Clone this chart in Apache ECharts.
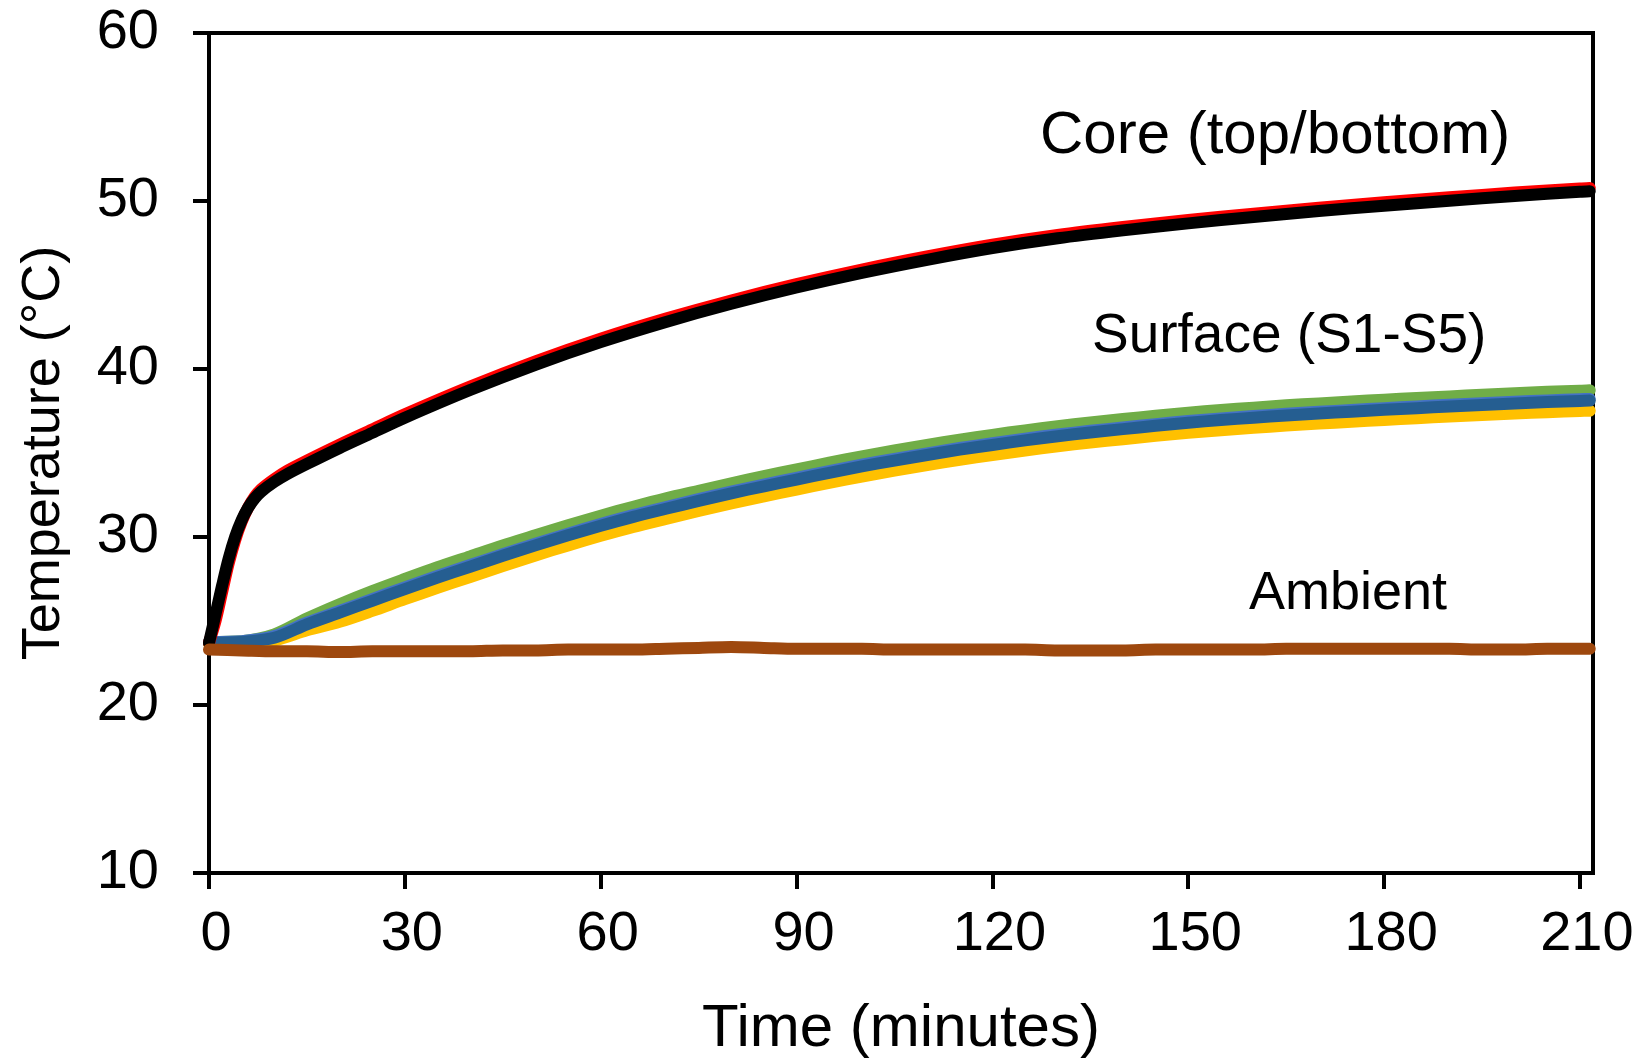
<!DOCTYPE html>
<html>
<head>
<meta charset="utf-8">
<title>Temperature vs time</title>
<script src="https://cdn.jsdelivr.net/npm/echarts@6/dist/echarts.min.js"></script>
<style>
  html, body { margin: 0; padding: 0; background: #ffffff; }
  #chart { width: 1639px; height: 1064px; }
</style>
</head>
<body>
<div id="chart"></div>
<script>
// Time stamps (minutes) for the core thermocouples
const coreTimes = [0, 1, 2, 3, 4, 5, 6, 7, 8, 10, 12, 15, 20, 25, 30, 40, 50, 60, 70, 80, 90, 100, 110, 120, 130, 140, 150, 160, 170, 180, 190, 200, 210, 211.5];
// Core, top and bottom sensors (°C)
const coreTop    = [23.7, 25.0, 26.7, 28.4, 29.8, 30.9, 31.75, 32.4, 32.85, 33.45, 33.95, 34.55, 35.5, 36.4, 37.3, 38.95, 40.45, 41.8, 43.0, 44.08, 45.05, 45.92, 46.7, 47.4, 47.98, 48.45, 48.87, 49.25, 49.6, 49.92, 50.22, 50.5, 50.75, 50.78];
const coreBottom = [23.7, 25.4, 27.1, 28.7, 30.0, 31.0, 31.75, 32.3, 32.7, 33.28, 33.75, 34.35, 35.3, 36.2, 37.1, 38.75, 40.25, 41.6, 42.8, 43.88, 44.85, 45.72, 46.5, 47.2, 47.78, 48.25, 48.67, 49.05, 49.4, 49.72, 50.02, 50.3, 50.55, 50.58];

// Time stamps (minutes) for the surface and ambient sensors
const surfTimes = [0, 5, 10, 15, 20, 25, 30, 35, 40, 45, 50, 55, 60, 65, 70, 75, 80, 85, 90, 95, 100, 105, 110, 115, 120, 125, 130, 135, 140, 145, 150, 155, 160, 165, 170, 175, 180, 185, 190, 195, 200, 205, 210, 211.5];
// Surface sensors (°C)
const surfGreen = [23.75, 23.8, 24.2, 25.15, 26.0, 26.78, 27.5, 28.2, 28.85, 29.5, 30.1, 30.7, 31.27, 31.8, 32.3, 32.75, 33.2, 33.63, 34.02, 34.42, 34.8, 35.15, 35.48, 35.8, 36.08, 36.35, 36.6, 36.82, 37.02, 37.22, 37.4, 37.56, 37.7, 37.84, 37.95, 38.07, 38.17, 38.28, 38.37, 38.47, 38.55, 38.64, 38.7, 38.73];
const surfBlue  = [23.75, 23.8, 24.1, 24.9, 25.6, 26.3, 27.0, 27.68, 28.33, 28.98, 29.6, 30.2, 30.77, 31.3, 31.78, 32.25, 32.7, 33.12, 33.52, 33.92, 34.3, 34.65, 34.98, 35.3, 35.58, 35.85, 36.1, 36.32, 36.52, 36.72, 36.9, 37.06, 37.2, 37.33, 37.45, 37.56, 37.67, 37.77, 37.87, 37.96, 38.05, 38.13, 38.2, 38.22];
const surfNavy  = [23.7, 23.75, 24.0, 24.8, 25.5, 26.2, 26.9, 27.58, 28.23, 28.88, 29.5, 30.1, 30.67, 31.2, 31.68, 32.15, 32.6, 33.02, 33.42, 33.82, 34.2, 34.55, 34.88, 35.2, 35.48, 35.75, 36.0, 36.22, 36.42, 36.62, 36.8, 36.96, 37.1, 37.23, 37.35, 37.46, 37.57, 37.67, 37.77, 37.86, 37.95, 38.03, 38.1, 38.12];
const surfGold  = [23.65, 23.7, 23.85, 24.45, 24.95, 25.6, 26.3, 26.97, 27.62, 28.27, 28.9, 29.5, 30.07, 30.6, 31.08, 31.55, 32.0, 32.42, 32.82, 33.22, 33.6, 33.95, 34.28, 34.6, 34.88, 35.15, 35.4, 35.62, 35.82, 36.02, 36.2, 36.36, 36.5, 36.63, 36.75, 36.86, 36.97, 37.07, 37.17, 37.26, 37.35, 37.43, 37.5, 37.52];
// Ambient air (°C)
const ambient   = [23.3, 23.25, 23.2, 23.2, 23.15, 23.2, 23.2, 23.2, 23.2, 23.25, 23.25, 23.3, 23.3, 23.3, 23.35, 23.4, 23.45, 23.4, 23.35, 23.35, 23.35, 23.3, 23.3, 23.3, 23.3, 23.3, 23.25, 23.25, 23.25, 23.3, 23.3, 23.3, 23.3, 23.35, 23.35, 23.35, 23.35, 23.35, 23.35, 23.3, 23.3, 23.35, 23.35, 23.35];

// Axis tick values
const timeTicks = [0, 30, 60, 90, 120, 150, 180, 210];
const tempTicks = [10, 20, 30, 40, 50, 60];

// Text placed next to each group of curves
const curveNotes = [
  { text: 'Core (top/bottom)', x: 1040, y: 136, size: 60 },
  { text: 'Surface (S1-S5)', x: 1092, y: 337, size: 55 },
  { text: 'Ambient', x: 1249, y: 594, size: 54 }
];

const FONT = "'Liberation Sans', Arial, 'DejaVu Sans', sans-serif";

function pairs(xs, ys) {
  return xs.map((x, i) => [x, ys[i]]);
}

function lineSeries(name, xs, ys, color, width) {
  return {
    name: name,
    type: 'line',
    data: pairs(xs, ys),
    showSymbol: false,
    symbol: 'none',
    smooth: 0.3,
    silent: true,
    animation: false,
    lineStyle: { color: color, width: width, cap: 'round', join: 'round' }
  };
}

const chart = echarts.init(document.getElementById('chart'), null, { renderer: 'canvas' });

chart.setOption({
  backgroundColor: '#ffffff',
  animation: false,
  grid: {
    left: 209, right: 46, top: 33, bottom: 188,
    show: true, borderColor: '#000000', borderWidth: 4, backgroundColor: 'transparent'
  },
  xAxis: {
    type: 'value',
    min: 0, max: 212, interval: 30,
    name: 'Time (minutes)',
    nameLocation: 'middle',
    nameGap: 126,
    nameTextStyle: { fontFamily: FONT, fontSize: 60, color: '#000000' },
    axisLine: { show: true, onZero: false, lineStyle: { color: '#000000', width: 4 } },
    axisTick: { show: true, inside: false, length: 16, customValues: timeTicks, lineStyle: { color: '#000000', width: 4 } },
    axisLabel: {
      customValues: timeTicks,
      margin: 34,
      fontFamily: FONT, fontSize: 56, color: '#000000',
      padding: [0, 0, 0, 14],
      formatter: v => (v % 30 === 0 ? String(v) : '')
    },
    splitLine: { show: false }
  },
  yAxis: {
    type: 'value',
    min: 10, max: 60, interval: 10,
    name: 'Temperature (°C)',
    nameLocation: 'middle',
    nameGap: 138,
    nameTextStyle: { fontFamily: FONT, fontSize: 54, color: '#000000' },
    axisLine: { show: true, onZero: false, lineStyle: { color: '#000000', width: 4 } },
    axisTick: { show: true, inside: false, length: 16, lineStyle: { color: '#000000', width: 4 } },
    axisLabel: {
      margin: 50,
      fontFamily: FONT, fontSize: 56, color: '#000000',
      padding: [0, 0, 6, 0],
      formatter: v => (tempTicks.indexOf(v) >= 0 ? String(v) : '')
    },
    splitLine: { show: false }
  },
  graphic: curveNotes.map(n => ({
    type: 'text',
    x: n.x, y: n.y,
    silent: true,
    style: {
      text: n.text,
      fill: '#000000',
      font: n.size + 'px ' + FONT,
      textAlign: 'left',
      textVerticalAlign: 'middle'
    }
  })),
  series: [
    lineSeries('S-gold', surfTimes, surfGold, '#FFC000', 12),
    lineSeries('S-green', surfTimes, surfGreen, '#70AD47', 12),
    lineSeries('S-blue', surfTimes, surfBlue, '#4472C4', 12),
    lineSeries('S-navy', surfTimes, surfNavy, '#255E91', 12),
    lineSeries('Core top', coreTimes, coreTop, '#FF0000', 12),
    lineSeries('Core bottom', coreTimes, coreBottom, '#000000', 12),
    lineSeries('Ambient', surfTimes, ambient, '#9E480E', 12)
  ]
});
</script>
</body>
</html>
